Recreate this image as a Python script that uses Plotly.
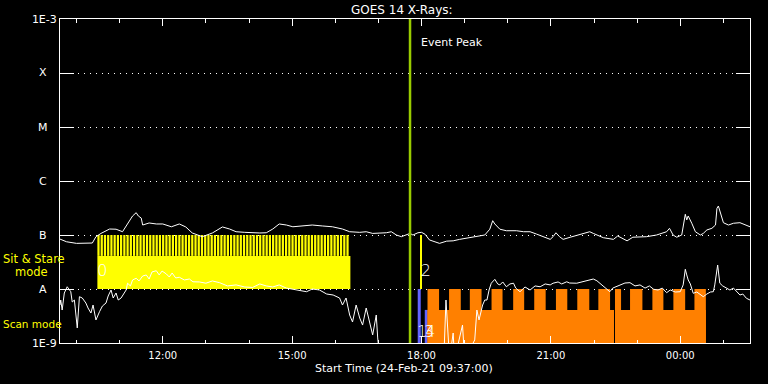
import pandas as pd
import plotly.graph_objects as go

# ---------------- data ----------------
start_time = pd.Timestamp("2021-02-24 09:37:00")
end_time = pd.Timestamp("2021-02-25 01:37:00")

# GOES 14 long channel (1-8 A) : minutes after start, flux W/m^2
long_min = [0, 9, 23, 37, 45, 50, 57, 69, 78, 87, 94, 101, 106, 109, 113, 115, 124, 134, 143, 155,
            166, 175, 184, 198, 212, 226, 236, 245, 257, 268, 278, 287, 296, 305, 315, 324, 338, 351,
            365, 379, 393, 403, 417, 426, 435, 445, 454, 461, 468, 475, 482, 487, 491, 498, 503, 508,
            514, 521, 528, 538, 547, 556, 566, 575, 584, 591, 598, 602, 605, 612, 621, 635, 645, 654,
            663, 672, 682, 686, 690, 695, 700, 710, 724, 737, 742, 756, 770, 776, 789, 797, 816, 830,
            844, 848, 853, 858, 865, 870, 872, 874, 879, 884, 891, 895, 900, 907, 912, 914, 916, 919,
            923, 930, 937, 946, 953, 960]
long_flux = [8.4e-8, 7.5e-8, 7.0e-8, 7.2e-8, 7.1e-8, 9.3e-8, 1.07e-7, 1.29e-7, 1.28e-7, 1.15e-7,
             1.65e-7, 2.25e-7, 2.59e-7, 2.25e-7, 2.06e-7, 1.53e-7, 1.67e-7, 1.6e-7, 1.6e-7, 1.42e-7,
             1.6e-7, 1.41e-7, 1.09e-7, 9.3e-8, 1.09e-7, 1.41e-7, 1.29e-7, 1.15e-7, 1.12e-7, 1.09e-7,
             1.09e-7, 1.10e-7, 1.29e-7, 1.6e-7, 1.53e-7, 1.42e-7, 1.47e-7, 1.53e-7, 1.47e-7, 1.42e-7,
             1.29e-7, 1.15e-7, 1.12e-7, 1.15e-7, 1.07e-7, 1.07e-7, 1.10e-7, 1.15e-7, 1.0e-7, 9.3e-8,
             1.0e-7, 1.07e-7, 1.0e-7, 1.10e-7, 1.12e-7, 1.03e-7, 8.1e-8, 7.5e-8, 7.0e-8, 7.7e-8,
             7.8e-8, 8.3e-8, 8.7e-8, 9.3e-8, 9.6e-8, 1.0e-7, 1.28e-7, 1.84e-7, 1.6e-7, 1.28e-7,
             1.2e-7, 1.2e-7, 1.15e-7, 1.15e-7, 1.04e-7, 9.3e-8, 8.3e-8, 9.3e-8, 1.10e-7, 9.3e-8,
             8.3e-8, 9.1e-8, 1.03e-7, 1.15e-7, 1.07e-7, 8.9e-8, 8.3e-8, 9.6e-8, 7.8e-8, 9.1e-8,
             9.3e-8, 1.0e-7, 1.15e-7, 1.33e-7, 1.0e-7, 9.1e-8, 1.0e-7, 2.42e-7, 1.9e-7, 2.25e-7,
             1.65e-7, 1.15e-7, 1.0e-7, 1.07e-7, 1.24e-7, 1.33e-7, 1.53e-7, 3.12e-7, 3.44e-7, 2.52e-7,
             1.69e-7, 1.53e-7, 1.65e-7, 1.69e-7, 1.53e-7, 1.42e-7]

# GOES 14 short channel (0.5-4 A)
short_min = [0, 1, 3, 6, 10, 15, 17, 20, 24, 27, 31, 36, 39, 43, 46, 50, 55, 59, 64, 67, 71, 74, 78,
             81, 85, 88, 92, 94, 98, 101, 106, 110, 115, 120, 124, 128, 134, 138, 142, 148, 152, 156,
             161, 166, 173, 180, 185, 194, 203, 212, 222, 233, 245, 257, 268, 278, 287, 296, 305, 315,
             324, 333, 343, 351, 361, 371, 380, 389, 393, 398, 403, 407, 412, 417, 421, 426, 431, 435,
             440, 442, 445, 534, 537, 540, 542, 547, 549, 560, 563, 577, 580, 583, 586, 588, 591, 594,
             597, 600, 605, 609, 612, 616, 621, 626, 631, 634, 640, 647, 654, 661, 668, 675, 682, 686,
             693, 698, 705, 709, 719, 726, 735, 742, 747, 751, 758, 765, 769, 779, 786, 793, 800, 807,
             814, 820, 826, 832, 838, 844, 849, 856, 863, 867, 870, 872, 874, 877, 881, 886, 891, 895,
             900, 905, 909, 911, 915, 917, 918, 922, 928, 932, 937, 942, 946, 950, 955, 960]
short_flux = [5.05e-9, 6.25e-9, 4.08e-9, 8.43e-9, 1.10e-8, 8.91e-9, 5.74e-9, 6.25e-9, 1.90e-9, 7.2e-9,
              6.81e-9, 5.5e-9, 4.45e-9, 3.59e-9, 5.05e-9, 2.67e-9, 3.80e-9, 4.84e-9, 5.5e-9, 7.42e-9,
              9.58e-9, 6.81e-9, 8.43e-9, 6.25e-9, 6.81e-9, 7.74e-9, 9.58e-9, 1.28e-8, 1.14e-8, 1.47e-8,
              1.58e-8, 1.41e-8, 1.74e-8, 1.82e-8, 1.53e-8, 2.07e-8, 2.18e-8, 1.82e-8, 2.15e-8, 1.90e-8,
              1.67e-8, 1.98e-8, 1.60e-8, 1.65e-8, 1.47e-8, 1.53e-8, 1.36e-8, 1.35e-8, 1.28e-8, 1.41e-8,
              1.31e-8, 1.14e-8, 1.19e-8, 1.09e-8, 1.07e-8, 1.24e-8, 1.14e-8, 1.09e-8, 1.19e-8, 1.04e-8,
              9.87e-9, 9.58e-9, 8.91e-9, 1.0e-8, 9.58e-9, 8.08e-9, 7.74e-9, 6.81e-9, 5.05e-9, 6.81e-9,
              3.30e-9, 2.45e-9, 5.05e-9, 2.90e-9, 2.15e-9, 4.45e-9, 2.45e-9, 1.41e-9, 3.30e-9, 1.24e-9,
              5e-10, 5e-10, 6.25e-9, 1.41e-9, 5e-10, 1.53e-9, 5e-10, 2.15e-9, 5e-10, 1.14e-9,
              4.08e-9, 2.67e-9, 3.75e-9, 5.05e-9, 6.25e-9, 6.25e-9, 9.58e-9, 1.28e-8, 1.51e-8, 1.24e-8,
              1.19e-8, 1.35e-8, 1.10e-8, 1.24e-8, 1.28e-8, 1.04e-8, 8.91e-9, 1.09e-8, 9.58e-9, 1.14e-8,
              1.10e-8, 1.24e-8, 1.19e-8, 1.28e-8, 1.35e-8, 1.24e-8, 1.36e-8, 1.29e-8, 1.28e-8, 1.35e-8,
              1.41e-8, 1.53e-8, 1.42e-8, 1.29e-8, 1.09e-8, 8.91e-9, 1.04e-8, 1.19e-8, 1.29e-8, 1.31e-8,
              1.14e-8, 1.19e-8, 1.04e-8, 1.14e-8, 9.87e-9, 9.58e-9, 1.04e-8, 8.54e-9, 9.58e-9, 8.8e-9,
              8.91e-9, 1.19e-8, 2.32e-8, 1.82e-8, 1.47e-8, 1.24e-8, 8.32e-9, 8.8e-9, 7.74e-9, 7.2e-9,
              8.08e-9, 8.8e-9, 8.91e-9, 1.19e-8, 2.78e-8, 1.82e-8, 1.28e-8, 1.14e-8, 1.03e-8, 9.58e-9,
              1.04e-8, 8.91e-9, 7.74e-9, 8.08e-9, 6.73e-9, 6.25e-9]

event_peak = "2021-02-24 17:44:00"

# IRIS sit & stare observation (raster 0)
sns_block_start = "2021-02-24 10:29:00"
sns_block_end = "2021-02-24 16:21:00"
sns_floor = 1e-8
sns_solid_top = 4.1e-8
sns_raster_top = 1e-7
sns_raster_offsets_min = [0, 4.5, 9, 13.5, 18, 22.5, 27, 31.5, 36, 40.5, 45, 49.5, 54, 58.5, 63, 67.5,
                          72, 76.5, 81, 85.5, 90, 94.5, 99, 103.5, 108, 112.5, 117, 121.5, 126, 130.5,
                          135, 139.5, 144, 148.5, 153, 157.5, 162, 166.5, 171, 175.5, 180, 184.5, 189,
                          193.5, 198, 202.5, 207, 211.5, 216, 220.5, 225, 229.5, 234, 238.5, 243, 247.5,
                          252, 256.5, 261, 265.5, 270, 274.5, 279, 283.5, 288, 292.5, 297, 301.5, 306,
                          310.5, 315, 319.5, 324, 328.5, 333, 337.5, 342, 346.5]
sns_raster_dur_min = 3.1

# short sit & stare (raster 2)
sns2_start = ["2021-02-24 17:59:00"]
sns2_end = ["2021-02-24 18:00:24"]

# blue scans (rasters 1 and 3)
cal_start = ["2021-02-24 17:54:42", "2021-02-24 18:04:30"]
cal_end = ["2021-02-24 17:58:54", "2021-02-24 18:08:42"]
cal_top = [1e-8, 4.1e-9]

# scan mode observation (raster 4): continuous low part + tall raster steps
scan_low_start = ["2021-02-24 18:08:18", "2021-02-24 22:29:12"]
scan_low_end = ["2021-02-24 22:27:48", "2021-02-25 00:35:36"]
scan_low_top = [4.1e-9, 4.1e-9]
scan_tall_start = ["2021-02-24 18:08:18", "2021-02-24 18:38:18", "2021-02-24 19:07:12",
                   "2021-02-24 19:37:24", "2021-02-24 20:07:30", "2021-02-24 20:36:48",
                   "2021-02-24 21:07:00", "2021-02-24 21:36:42", "2021-02-24 22:06:00",
                   "2021-02-24 22:29:12", "2021-02-24 22:50:06", "2021-02-24 23:21:12",
                   "2021-02-24 23:50:24", "2021-02-25 00:19:42"]
scan_tall_end = ["2021-02-24 18:24:24", "2021-02-24 18:54:36", "2021-02-24 19:23:30",
                 "2021-02-24 19:52:42", "2021-02-24 20:22:48", "2021-02-24 20:52:42",
                 "2021-02-24 21:22:48", "2021-02-24 21:53:24", "2021-02-24 22:22:18",
                 "2021-02-24 22:37:36", "2021-02-24 23:07:18", "2021-02-24 23:36:30",
                 "2021-02-25 00:06:48", "2021-02-25 00:35:36"]
scan_tall_top = [1e-8] * 14
plot_floor = 1e-9

# raster number labels
obs_label_text = ["0", "2", "1", "3", "4"]
obs_label_time = ["2021-02-24 10:36:00", "2021-02-24 18:06:00", "2021-02-24 18:00:40",
                  "2021-02-24 18:10:10", "2021-02-24 18:12:10"]
obs_label_flux = [2.1e-8, 2.1e-8, 1.5e-9, 1.5e-9, 1.5e-9]

ytick_vals = [1e-9, 1e-8, 1e-7, 1e-6, 1e-5, 1e-4, 1e-3]
ytick_text = ["1E-9", "", "", "", "", "", "1E-3"]
class_letters = ["A", "B", "C", "M", "X"]

# ---------------- figure ----------------
FONT = "DejaVu Sans"
YELLOW = "#FFFF00"
ORANGE = "#FF8000"
BLUE = "#6464FF"
GREEN = "#99CC00"


def bars(starts, ends, base, tops, color):
    s = pd.to_datetime(pd.Series(starts))
    e = pd.to_datetime(pd.Series(ends))
    centers = s + (e - s) / 2
    widths = ((e - s).dt.total_seconds() * 1000).tolist()
    ys = [t - base for t in tops]
    return go.Bar(x=centers, y=ys, base=base, width=widths,
                  marker=dict(color=color, line=dict(width=0)), opacity=1,
                  showlegend=False, hoverinfo="skip")


fig = go.Figure()

fig.add_trace(bars([sns_block_start], [sns_block_end], sns_floor, [sns_solid_top], YELLOW))
r_start = pd.Timestamp(sns_block_start) + pd.to_timedelta(sns_raster_offsets_min, unit="min")
r_end = r_start + pd.Timedelta(minutes=sns_raster_dur_min)
fig.add_trace(bars(list(r_start), list(r_end), sns_solid_top,
                   [sns_raster_top] * len(sns_raster_offsets_min), YELLOW))
fig.add_trace(bars(sns2_start, sns2_end, sns_floor, [sns_raster_top], YELLOW))
fig.add_trace(bars(cal_start, cal_end, plot_floor, cal_top, BLUE))
fig.add_trace(bars(scan_low_start, scan_low_end, plot_floor, scan_low_top, ORANGE))
fig.add_trace(bars(scan_tall_start, scan_tall_end, plot_floor, scan_tall_top, ORANGE))

fig.add_trace(go.Scatter(x=start_time + pd.to_timedelta(long_min, unit="min"), y=long_flux,
                         mode="lines", line=dict(color="white", width=1), showlegend=False,
                         hoverinfo="skip"))
fig.add_trace(go.Scatter(x=start_time + pd.to_timedelta(short_min, unit="min"), y=short_flux,
                         mode="lines", line=dict(color="white", width=1), showlegend=False,
                         hoverinfo="skip"))

fig.add_trace(go.Scatter(x=[event_peak, event_peak], y=[1e-9, 1e-3], mode="lines",
                         line=dict(color=GREEN, width=2.5), showlegend=False, hoverinfo="skip"))

fig.add_trace(go.Scatter(x=obs_label_time, y=obs_label_flux, mode="text", text=obs_label_text,
                         textposition="middle center",
                         textfont=dict(family=FONT, size=16, color="white", weight=200),
                         showlegend=False, hoverinfo="skip"))

annotations = []
for i, letter in enumerate(class_letters):
    annotations.append(dict(text=letter, xref="paper", yref="paper", x=-0.025, y=(i + 1) / 6,
                            xanchor="center", yanchor="middle", showarrow=False,
                            font=dict(family=FONT, size=11, color="white")))
annotations += [
    dict(text="GOES 14 X-Rays:", xref="paper", yref="paper", x=0.4957, y=1.029,
         xanchor="center", yanchor="middle", showarrow=False,
         font=dict(family=FONT, size=12, color="white")),
    dict(text="Start Time (24-Feb-21 09:37:00)", xref="paper", yref="paper", x=0.4986, y=-0.080,
         xanchor="center", yanchor="middle", showarrow=False,
         font=dict(family=FONT, size=11, color="white")),
    dict(text="Event Peak", xref="x", yref="paper", x=event_peak, xshift=9, y=0.926,
         xanchor="left", yanchor="middle", showarrow=False,
         font=dict(family=FONT, size=11, color="white")),
    dict(text="Sit & Stare", xref="paper", yref="paper", x=-0.0855, y=0.2606,
         xanchor="left", yanchor="middle", showarrow=False,
         font=dict(family=FONT, size=11.5, color=YELLOW)),
    dict(text="mode", xref="paper", yref="paper", x=-0.0686, y=0.2183,
         xanchor="left", yanchor="middle", showarrow=False,
         font=dict(family=FONT, size=11.5, color=YELLOW)),
    dict(text="Scan mode", xref="paper", yref="paper", x=-0.0855, y=0.0586,
         xanchor="left", yanchor="middle", showarrow=False,
         font=dict(family=FONT, size=10.5, color=YELLOW)),
]

fig.update_layout(
    width=768, height=384,
    margin=dict(l=60, r=18, t=19, b=41),
    paper_bgcolor="black", plot_bgcolor="black",
    barmode="overlay",
    showlegend=False,
    font=dict(family=FONT, size=11, color="white"),
    annotations=annotations,
    xaxis=dict(
        type="date", range=[start_time, end_time],
        tickmode="linear", tick0="2021-02-24 12:00:00", dtick=3 * 3600000,
        tickformat="%H:%M", ticks="inside", ticklen=7, tickwidth=1, tickcolor="white",
        minor=dict(tick0="2021-02-24 10:00:00", dtick=3600000, ticks="inside", ticklen=3.5,
                   tickcolor="white", tickwidth=1, showgrid=False),
        showline=True, linecolor="white", linewidth=1, mirror="ticks",
        showgrid=False, zeroline=False,
        tickfont=dict(family=FONT, size=10, color="white"),
        ticklabelstandoff=3,
    ),
    yaxis=dict(
        type="log", range=[-9, -3],
        tickmode="array", tickvals=ytick_vals, ticktext=ytick_text,
        ticks="inside", ticklen=14, tickwidth=1, tickcolor="white",
        showline=True, linecolor="white", linewidth=1, mirror="ticks",
        showgrid=True, gridcolor="white", gridwidth=1, griddash="1px,5px",
        zeroline=False,
        tickfont=dict(family=FONT, size=11, color="white"),
    ),
)

fig.write_html("out.html")
